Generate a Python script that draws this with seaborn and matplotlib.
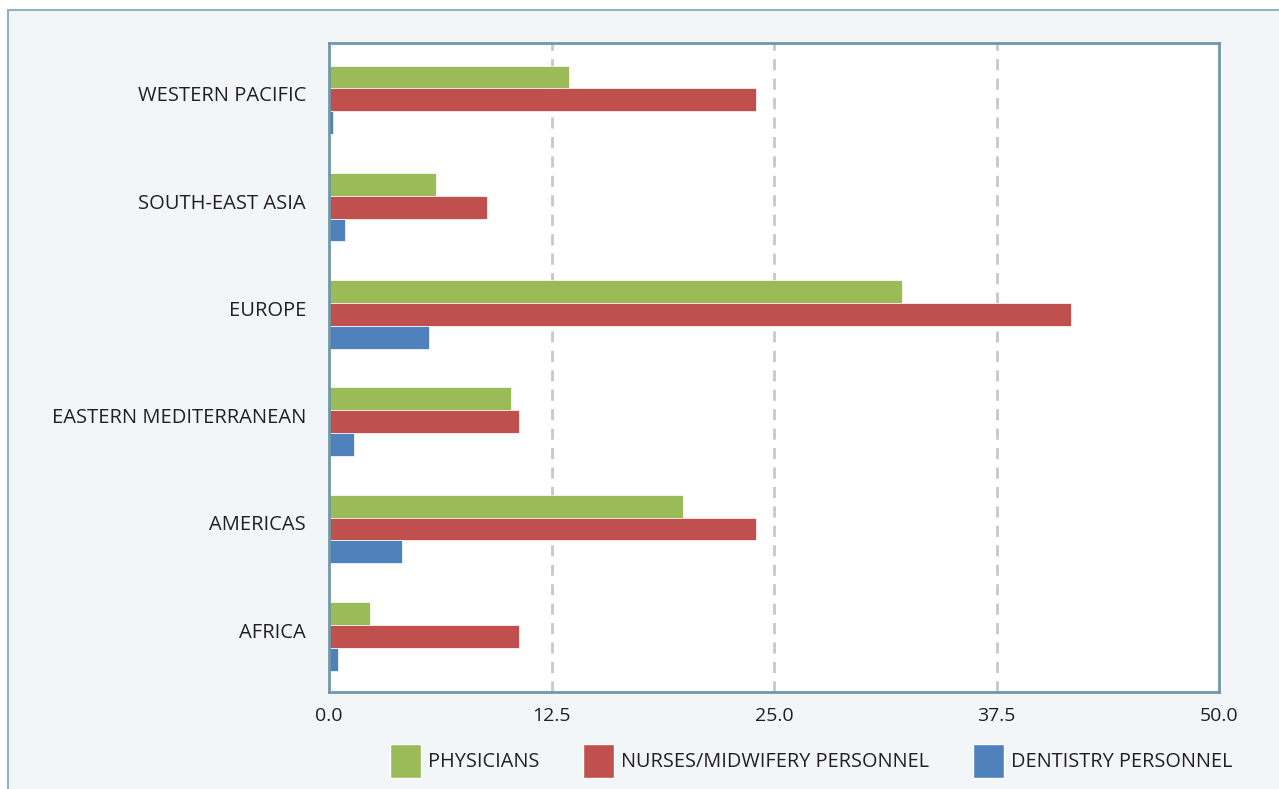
import pandas as pd
import matplotlib.pyplot as plt
from matplotlib.patches import Rectangle
from matplotlib.transforms import ScaledTranslation
import seaborn as sns

regions = ['WESTERN PACIFIC', 'SOUTH-EAST ASIA', 'EUROPE', 'EASTERN MEDITERRANEAN', 'AMERICAS', 'AFRICA']
series = ['PHYSICIANS', 'NURSES/MIDWIFERY PERSONNEL', 'DENTISTRY PERSONNEL']
physicians = [13.5, 6.0, 32.2, 10.2, 19.9, 2.3]
nurses = [24.0, 8.9, 41.7, 10.7, 24.0, 10.7]
dentistry = [0.2, 0.9, 5.6, 1.4, 4.1, 0.5]
colors = ['#9bbb59', '#c0504d', '#4f81bd']
x_ticks = [0, 12.5, 25, 37.5, 50]

df = pd.DataFrame({
    'region': regions * 3,
    'series': [series[0]] * 6 + [series[1]] * 6 + [series[2]] * 6,
    'value': physicians + nurses + dentistry,
})

sns.set_style('white')
plt.rcParams['font.family'] = ['Open Sans', 'DejaVu Sans']
text_color = '#231f20'

fig = plt.figure(figsize=(12.79, 7.89), dpi=100)
fig.patch.set_facecolor('white')
# light panel with a border, cropped at right and bottom
fig.patches.append(Rectangle((8 / 1279, -0.05), 1.1, 1 - 10 / 789 + 0.05, transform=fig.transFigure,
                             facecolor='#f2f6f8', edgecolor='#8fb1c0', linewidth=1.5, zorder=-10))

ax = fig.add_axes([329 / 1279, 1 - 692 / 789, 890 / 1279, 649 / 789])
ax.set_zorder(5)
sns.barplot(data=df, y='region', x='value', hue='series', orient='h', palette=colors,
            width=0.64, ax=ax, edgecolor='white', linewidth=0.5, saturation=1)

ax.set_xlim(0, 50)
ax.set_ylim(5.52, -0.53)
ax.set_xticks(x_ticks)
ax.set_xticklabels([f'{t:.1f}' for t in x_ticks])
for t in x_ticks[1:-1]:
    ax.axvline(t, color='#c8c8c8', linestyle=(0, (4, 3)), linewidth=2, zorder=0)
ax.set_xlabel('')
ax.set_ylabel('')
ax.tick_params(axis='x', length=0, labelsize=14, colors=text_color, pad=11)
ax.tick_params(axis='y', length=0, labelsize=14.5, colors=text_color, pad=16.5)
for s in ax.spines.values():
    s.set_color('#6f98a8')
    s.set_linewidth(2)

# region labels sit a little above the bar group centre
for lbl in ax.get_yticklabels():
    lbl.set_transform(lbl.get_transform() + ScaledTranslation(0, 6 / 100, fig.dpi_scale_trans))

ax.legend_.remove()
handles = [Rectangle((0, 0), 1, 1, facecolor=c) for c in colors]
fig.legend(handles, series, loc='center', bbox_to_anchor=(811 / 1279, 1 - 761 / 789), ncol=3,
           frameon=False, fontsize=14.3, handlelength=1.56, handleheight=2.3, handletextpad=0.35,
           columnspacing=2.2, labelcolor=text_color)

fig.savefig('out.png', dpi=100)
